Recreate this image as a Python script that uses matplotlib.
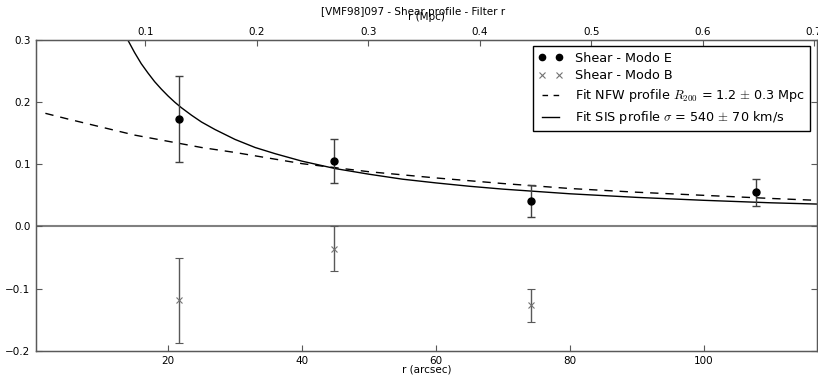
import numpy as np
import matplotlib
matplotlib.use('Agg')
import matplotlib.pyplot as plt
from matplotlib.lines import Line2D

plt.rcParams['font.family'] = 'DejaVu Sans'
plt.rcParams['mathtext.fontset'] = 'cm'

# data (r in arcsec)
r_e = [21.6, 44.8, 74.2, 107.7]
shear_e = [0.173, 0.105, 0.041, 0.055]
err_e = [0.069, 0.035, 0.026, 0.022]

r_b = [21.6, 44.8, 74.2]
shear_b = [-0.119, -0.036, -0.127]
err_b = [0.068, 0.036, 0.027]

# fitted profiles
r_nfw = [1.7, 5, 10, 15, 20, 25, 30, 40, 50, 60, 70, 80, 90, 100, 110, 116.8]
g_nfw = [0.182, 0.173, 0.160, 0.147, 0.137, 0.127, 0.119, 0.101, 0.088, 0.078,
         0.069, 0.061, 0.055, 0.050, 0.045, 0.042]

r_sis = [13.8, 14.5, 15, 15.5, 16, 17, 18, 19, 20, 21, 22, 23.5, 25, 27, 30,
         33, 36, 40, 45, 50, 55, 60, 65, 70, 80, 90, 100, 110, 116.8]
g_sis = [0.304, 0.290, 0.280, 0.271, 0.262, 0.247, 0.233, 0.221, 0.210, 0.200,
         0.191, 0.179, 0.168, 0.156, 0.140, 0.127, 0.117, 0.105, 0.093, 0.084,
         0.076, 0.070, 0.0646, 0.060, 0.0525, 0.0467, 0.042, 0.038, 0.036]

mpc_per_arcsec = 0.006013
xlim = (0.3, 116.8)
mpc_ticks = [0.1, 0.2, 0.3, 0.4, 0.5, 0.6, 0.7]

W, H = 818, 375
fig = plt.figure(figsize=(W / 100, H / 100), dpi=100, facecolor='w')
ax = fig.add_axes([36 / W, (H - 350.7) / H, (816.7 - 36) / W, (350.7 - 40) / H])

spine_col = '0.35'
fs = 7.5

ax.axhline(0, color='0.5', lw=1.5, zorder=1)
ax.plot(r_nfw, g_nfw, color='k', lw=1, dashes=(6, 5))
ax.plot(r_sis, g_sis, color='k', lw=1)

ax.errorbar(r_e, shear_e, yerr=err_e, fmt='o', color='k', ms=5,
            ecolor='0.25', elinewidth=1, capsize=3, capthick=1, zorder=3)
ax.errorbar(r_b, shear_b, yerr=err_b, fmt='x', color='0.45', ms=5, mew=0.8,
            ecolor='0.35', elinewidth=1, capsize=3, capthick=1, zorder=3)

ax.set_xlim(*xlim)
ax.set_ylim(-0.2, 0.3)
ax.set_yticks([-0.2, -0.1, 0.0, 0.1, 0.2, 0.3])
ax.set_xticks([20, 40, 60, 80, 100])
ax.set_xlabel('r (arcsec)', fontsize=fs, labelpad=-1)
ax.tick_params(direction='in', length=4, labelsize=fs, color=spine_col,
               pad=4, top=False, right=True)
for sp in ax.spines.values():
    sp.set_color(spine_col)
    sp.set_linewidth(1)

ax2 = ax.twiny()
ax2.set_xlim(xlim[0] * mpc_per_arcsec, xlim[1] * mpc_per_arcsec)
ax2.set_xticks(mpc_ticks)
ax2.set_xlabel('r (Mpc)', fontsize=fs, labelpad=5)
ax2.tick_params(direction='in', length=4, labelsize=fs, color=spine_col, pad=2)
for sp in ax2.spines.values():
    sp.set_color(spine_col)

fig.text(413.5 / W, 1 - 12 / H, '[VMF98]097 - Shear profile - Filter r',
         fontsize=fs, ha='center', va='center')

handles = [
    Line2D([], [], ls='none', marker='o', color='k', ms=4.5),
    Line2D([], [], ls='none', marker='x', color='0.45', ms=4.5, mew=0.8),
    Line2D([], [], color='k', lw=1, dashes=(4, 4)),
    Line2D([], [], color='k', lw=1),
]
labels = ['Shear - Modo E', 'Shear - Modo B',
          r'Fit NFW profile $R_{200}$ = 1.2 $\pm$ 0.3 Mpc',
          r'Fit SIS profile $\sigma$ = 540 $\pm$ 70 km/s']
leg = ax2.legend(handles, labels, loc='upper right', numpoints=2, fontsize=9.2,
                 handlelength=1.9, handletextpad=1.0, fancybox=False,
                 framealpha=1, edgecolor='k', borderaxespad=0.5,
                 labelspacing=0.38)
leg.get_frame().set_linewidth(1)

fig.savefig('out.png', dpi=100, facecolor='w')
